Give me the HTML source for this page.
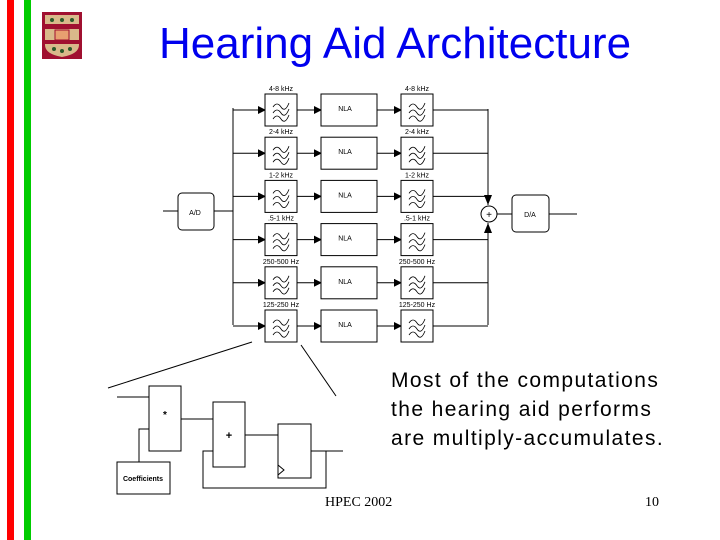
<!DOCTYPE html>
<html><head><style>
body{margin:0;width:720px;height:540px;background:#fff;overflow:hidden;position:relative;font-family:"Liberation Sans",sans-serif}
.t{position:absolute;white-space:nowrap}
</style></head><body>
<div style="position:absolute;left:7px;top:0;width:7px;height:540px;background:#f00"></div>
<div style="position:absolute;left:24px;top:0;width:7px;height:540px;background:#0c0"></div>
<svg width="720" height="540" style="position:absolute;left:0;top:0" font-family="Liberation Sans,sans-serif">
<defs><marker id="a" markerWidth="8" markerHeight="8" refX="7" refY="4" orient="auto" markerUnits="userSpaceOnUse"><path d="M0,0L8,4L0,8z" fill="#000"/></marker></defs>
<rect x="42" y="12" width="40" height="47" fill="#a01030"/>
<path d="M45,15H79V45Q79,54 62,57Q45,54 45,45Z" fill="#d9b98a"/>
<rect x="45" y="24" width="34" height="5" fill="#a01030"/><rect x="45" y="40" width="34" height="4" fill="#a01030"/>
<rect x="55" y="30" width="14" height="10" fill="#e8a070" stroke="#a01030"/>
<g fill="#2a5a2a"><circle cx="52" cy="20" r="2"/><circle cx="62" cy="20" r="2"/><circle cx="72" cy="20" r="2"/><circle cx="54" cy="49" r="2"/><circle cx="62" cy="51" r="2"/><circle cx="70" cy="49" r="2"/></g>
<g stroke="#000" stroke-width="1" fill="none">
<line x1="163" y1="211" x2="178" y2="211"/>
<rect x="178" y="193" width="36" height="37" rx="4" fill="#fff"/>
<line x1="214" y1="211" x2="233" y2="211"/>
<line x1="233" y1="108" x2="233" y2="325"/>
<line x1="488" y1="109" x2="488" y2="205"/>
<line x1="488" y1="223" x2="488" y2="325"/>
<circle cx="489" cy="214" r="8" fill="#fff"/>
<line x1="497" y1="214" x2="512" y2="214"/>
<rect x="512" y="195" width="37" height="37" rx="4" fill="#fff"/>
<line x1="549" y1="214" x2="577" y2="214"/>
</g>
<text x="195" y="215" font-size="7" text-anchor="middle">A/D</text>
<text x="530" y="217" font-size="7" text-anchor="middle">D/A</text>
<text x="489" y="218" font-size="10" text-anchor="middle">+</text>
<path d="M484,195L492,195L488,205z M484,233L492,233L488,223z" fill="#000"/>
<g id="rows"></g>
<g stroke="#000" stroke-width="1" fill="none">
<line x1="108" y1="388" x2="252" y2="342"/>
<line x1="301" y1="345" x2="336" y2="396"/>
<line x1="117" y1="397" x2="149" y2="397"/>
<rect x="149" y="386" width="32" height="65"/>
<line x1="181" y1="419" x2="213" y2="419"/>
<rect x="213" y="402" width="32" height="65"/>
<line x1="245" y1="435" x2="278" y2="435"/>
<rect x="278" y="424" width="33" height="54"/>
<path d="M278,465L284,470L278,475"/>
<line x1="311" y1="451" x2="343" y2="451"/>
<polyline points="326,451 326,488 203,488 203,451 213,451"/>
<rect x="117" y="462" width="53" height="32"/>
<polyline points="139,462 139,429 149,429"/>
</g>
<text x="165" y="418" font-size="10" font-weight="bold" text-anchor="middle">*</text>
<text x="229" y="439" font-size="11" font-weight="bold" text-anchor="middle">+</text>
<text x="143" y="481" font-size="7" font-weight="bold" text-anchor="middle">Coefficients</text>
</svg>
<div class="t" style="left:159px;top:19px;font-size:44px;color:#0000ee">Hearing Aid Architecture</div>
<div class="t" style="left:391px;top:366px;font-size:21px;line-height:29px;letter-spacing:1.4px">Most of the computations<br>the hearing aid performs<br>are multiply-accumulates.</div>
<div class="t" style="left:325px;top:495px;font-size:14px;font-family:'Liberation Serif',serif">HPEC 2002</div>
<div class="t" style="left:645px;top:495px;font-size:14px;font-family:'Liberation Serif',serif">10</div>
<script>
var labs=["4-8 kHz","2-4 kHz","1-2 kHz",".5-1 kHz","250-500 Hz","125-250 Hz"];
var s="";
for(var i=0;i<6;i++){
 var y=94+i*43.2,c=y+16;
 s+='<line x1="233" y1="'+c+'" x2="265" y2="'+c+'" stroke="#000" marker-end="url(#a)"/>';
 s+='<line x1="297" y1="'+c+'" x2="321" y2="'+c+'" stroke="#000" marker-end="url(#a)"/>';
 s+='<line x1="377" y1="'+c+'" x2="401" y2="'+c+'" stroke="#000" marker-end="url(#a)"/>';
 s+='<line x1="432" y1="'+c+'" x2="488" y2="'+c+'" stroke="#000"/>';
 [265,401].forEach(function(x){
  s+='<rect x="'+x+'" y="'+y+'" width="32" height="32" fill="#fff" stroke="#000"/>';
  for(var k=0;k<3;k++){var yy=y+9+k*6;s+='<path d="M'+(x+8)+','+(yy+4)+'q4,-6 8,0t8,-4" fill="none" stroke="#000" stroke-width="0.8"/>';}
  s+='<text x="'+(x+16)+'" y="'+(y-3)+'" font-size="7" text-anchor="middle">'+labs[i]+'</text>';
 });
 s+='<rect x="321" y="'+y+'" width="56" height="32" fill="#fff" stroke="#000"/>';
 s+='<text x="345" y="'+(y+17)+'" font-size="7" text-anchor="middle">NLA</text>';
}
document.getElementById("rows").innerHTML=s;
</script>
</body></html>
